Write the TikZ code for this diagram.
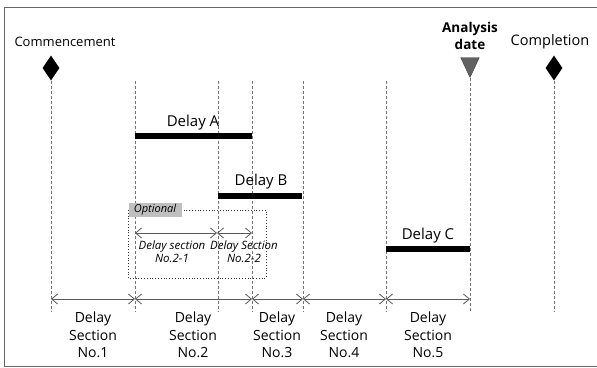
\documentclass[tikz,border=0pt]{standalone}
\usepackage{fontspec}
\setmainfont{Open Sans}
\usetikzlibrary{shapes.geometric,arrows.meta}
\begin{document}
\begin{tikzpicture}[x=1pt,y=-1pt,
  vdash/.style={draw=black!55,densely dashed,line width=0.6pt},
  delaybar/.style={line width=5.5pt,black},
  lbl/.style={font=\fontsize{15}{16}\selectfont,inner sep=0pt},
  seclbl/.style={font=\fontsize{14}{17.5}\selectfont,align=center,inner sep=0pt},
  sublbl/.style={font=\fontsize{11.5}{13}\selectfont\itshape,align=center,inner sep=0pt},
  secarrow/.style={draw=black!65,line width=0.8pt,{Straight Barb[length=6pt,width=10pt]}-{Straight Barb[length=6pt,width=10pt]}},
  milestone/.style={diamond,fill=black,minimum width=17pt,minimum height=25pt,inner sep=0pt}]
\useasboundingbox (0,0) rectangle (597,367);
\draw[black!60,line width=0.8pt] (600,7) -- (4,7) -- (4,366) -- (600,366);
% milestones
\node[lbl,font=\fontsize{13}{14}\selectfont] (comm) at (65,42) {Commencement};
\node[milestone] (d1) at (51,68) {};
\node[lbl,font=\fontsize{14.5}{15}\selectfont] (compl) at (550,42) {Completion};
\node[milestone] (d2) at (554,68) {};
\node[lbl,font=\fontsize{13.5}{16.5}\selectfont\bfseries,align=center] (ana) at (470,36) {Analysis\\date};
\node[isosceles triangle,shape border rotate=-90,fill=black!62,draw=black!75,isosceles triangle apex angle=50,minimum height=20pt,inner sep=0pt,anchor=apex] (tri) at (470,78) {};
% coordinates of dashed lines
\coordinate (t1) at (51,312);
\coordinate (a0) at (135,81); \coordinate (b0) at (135,312);
\coordinate (a1) at (218,81); \coordinate (b1) at (218,312);
\coordinate (a2) at (252,81); \coordinate (b2) at (252,312);
\coordinate (a3) at (303,81); \coordinate (b3) at (303,312);
\coordinate (a4) at (386,81); \coordinate (b4) at (386,312);
\coordinate (b5) at (470,312);
\coordinate (t6) at (554,312);
\draw[vdash] (d1.south) -- (t1);
\draw[vdash] (a0) -- (b0);
\draw[vdash] (a1) -- (b1);
\draw[vdash] (a2) -- (b2);
\draw[vdash] (a3) -- (b3);
\draw[vdash] (a4) -- (b4);
\draw[vdash] (tri.apex) -- (b5);
\draw[vdash] (d2.south) -- (t6);
% delays
\coordinate (A0) at (135,136); \coordinate (A1) at (252,136);
\draw[delaybar] (A0) -- (A1);
\node[lbl] (la) at (193,123) {Delay A};
\coordinate (B0) at (218,196); \coordinate (B1) at (302,196);
\draw[delaybar] (B0) -- (B1);
\node[lbl] (lb) at (261,182) {Delay B};
\coordinate (C0) at (386,249); \coordinate (C1) at (470,249);
\draw[delaybar] (C0) -- (C1);
\node[lbl] (lc) at (428,236) {Delay C};
% optional box
\draw[black!80,dotted,line width=0.8pt] (128,210) rectangle (266,278);
\node[fill=black!25,minimum width=53pt,minimum height=14pt,inner sep=0pt,font=\fontsize{11}{12}\selectfont\itshape] (opt) at (155,210) {Optional};
\coordinate (s0) at (135,233); \coordinate (s1) at (217,233); \coordinate (s2) at (252,233);
\draw[secarrow] (s0) -- (s1);
\draw[secarrow] (s1) -- (s2);
\node[sublbl] (sl1) at (172,252) {Delay section\\No.2-1};
\node[sublbl] (sl2) at (244,252) {Delay Section\\No.2-2};
% bottom timeline
\coordinate (p0) at (51,299); \coordinate (p1) at (135,299); \coordinate (p2) at (252,299);
\coordinate (p3) at (303,299); \coordinate (p4) at (386,299); \coordinate (p5) at (470,299);
\draw[secarrow] (p0) -- (p1);
\draw[secarrow] (p1) -- (p2);
\draw[secarrow] (p2) -- (p3);
\draw[secarrow] (p3) -- (p4);
\draw[secarrow] (p4) -- (p5);
\node[seclbl] (n1) at (93,335) {Delay\\Section\\No.1};
\node[seclbl] (n2) at (193,335) {Delay\\Section\\No.2};
\node[seclbl] (n3) at (277,335) {Delay\\Section\\No.3};
\node[seclbl] (n4) at (344,335) {Delay\\Section\\No.4};
\node[seclbl] (n5) at (428,335) {Delay\\Section\\No.5};
\end{tikzpicture}
\end{document}
